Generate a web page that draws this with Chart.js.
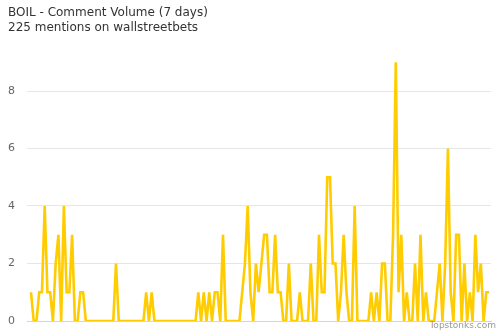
<!DOCTYPE html>
<html>
<head>
<meta charset="utf-8">
<script src="https://cdn.jsdelivr.net/npm/chart.js@4"></script>
<style>
html,body{margin:0;padding:0;background:#fff;}
#wrap{width:500px;height:333px;position:relative;}
</style>
</head>
<body>
<div id="wrap"><canvas id="c" width="500" height="333"></canvas></div>
<script>
const titleLines = ["BOIL - Comment Volume (7 days)", "225 mentions on wallstreetbets"];
const creditText = "Topstonks.com";
const yTicks = [0, 2, 4, 6, 8];
// hourly comment counts over 7 days (168 hours)
const hourIndex = Array.from({length:168}, (_, i) => i);
const mentions = [
 1,0,0,1,1,4,1,1,0,2, 3,0,4,1,1,3,0,0,1,1,
 0,0,0,0,0,0,0,0,0,0, 0,2,0,0,0,0,0,0,0,0,
 0,0,1,0,1,0,0,0,0,0, 0,0,0,0,0,0,0,0,0,0,
 0,1,0,1,0,1,0,1,1,0, 3,0,0,0,0,0,0,1,2,4,
 1,0,2,1,2,3,3,1,1,3, 1,1,0,0,2,0,0,0,1,0,
 0,0,2,0,0,3,1,1,5,5, 2,2,0,1,3,1,0,0,4,0,
 0,0,0,0,1,0,1,0,2,2, 0,0,3,9,1,3,0,1,0,0,
 2,0,3,0,1,0,0,0,1,2, 0,2,6,1,0,3,3,0,2,0,
 1,0,3,1,2,0,1,1
];

const textPlugin = {
  id: 'texts',
  afterDraw(chart) {
    const ctx = chart.ctx;
    ctx.save();
    ctx.fillStyle = '#333333';
    ctx.font = '12px "DejaVu Sans"';
    ctx.textAlign = 'left';
    ctx.textBaseline = 'middle';
    ctx.fillText(titleLines[0], 8, 13);
    ctx.fillText(titleLines[1], 8, 28);
    ctx.fillStyle = '#999999';
    ctx.font = '9px "DejaVu Sans"';
    ctx.textAlign = 'right';
    ctx.fillText(creditText, 496, 326);
    ctx.restore();
  }
};

new Chart(document.getElementById('c'), {
  type: 'line',
  data: {
    datasets: [{
      data: mentions.map((v, i) => ({x: hourIndex[i], y: v})),
      borderColor: '#ffcc00',
      borderWidth: 2.6,
      pointRadius: 0,
      tension: 0,
      fill: false
    }]
  },
  options: {
    responsive: false,
    animation: false,
    layout: {padding: {left: 0, right: 9, top: 45, bottom: 12}},
    plugins: {legend: {display: false}, tooltip: {enabled: false}, title: {display: false}},
    scales: {
      x: {
        type: 'linear',
        min: -1.45,
        max: 167.7,
        ticks: {display: false},
        grid: {display: false, drawTicks: false},
        border: {display: true, color: '#ccd6eb', width: 1},
        afterFit(s) { s.height = 0; s.paddingLeft = 0; s.paddingRight = 0; }
      },
      y: {
        min: 0,
        max: 9.6,
        afterBuildTicks(s) { s.ticks = yTicks.map(v => ({value: v})); },
        ticks: {color: '#666666', font: {family: 'DejaVu Sans', size: 11}, padding: 12},
        grid: {color: '#e6e6e6', lineWidth: 1, drawTicks: false},
        border: {display: false},
        afterFit(s) { s.width = 27; s.paddingTop = 0; s.paddingBottom = 0; }
      }
    }
  },
  plugins: [textPlugin]
});
</script>
</body>
</html>
